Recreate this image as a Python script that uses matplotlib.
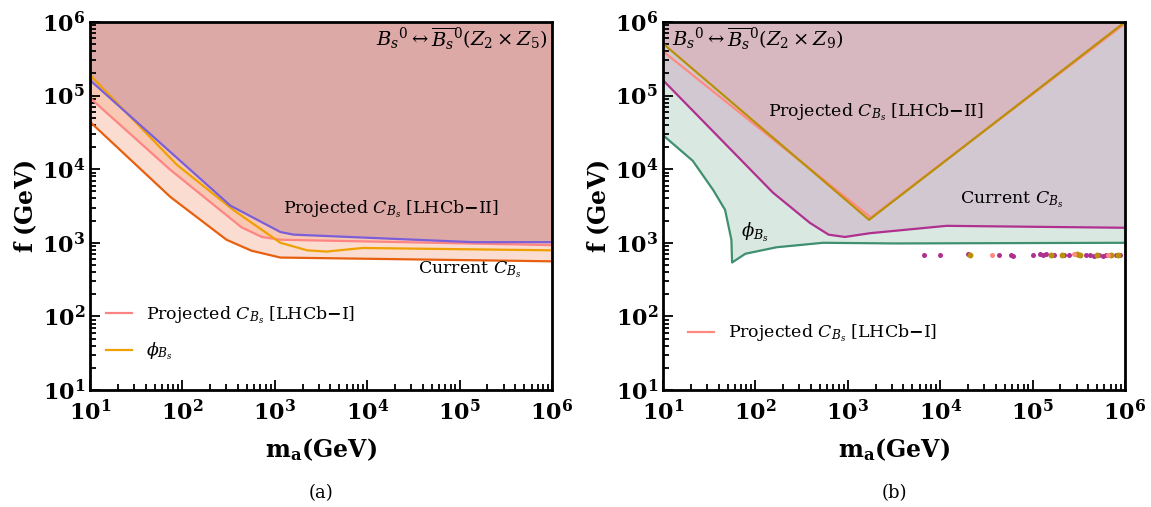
import math
import matplotlib.pyplot as plt
from matplotlib.ticker import LogLocator, FuncFormatter, NullFormatter

plt.rcParams['font.family'] = ['DejaVu Serif']
plt.rcParams['mathtext.fontset'] = 'dejavuserif'

# ---- panel (a): Z2 x Z5 ----
a_lhcb2_x = [10, 330, 1150, 1600, 1.4e5, 1e6]
a_lhcb2_y = [1.62e5, 3.2e3, 1.4e3, 1.29e3, 1.02e3, 1.02e3]
a_phi_x = [10, 87, 355, 1150, 2240, 3630, 8900, 1e6]
a_phi_y = [1.9e5, 1.15e4, 2.8e3, 1.0e3, 7.9e2, 7.6e2, 8.5e2, 7.9e2]
a_lhcb1_x = [10, 74, 437, 724, 1150, 1e6]
a_lhcb1_y = [9.3e4, 9.8e3, 1.62e3, 1.2e3, 1.1e3, 9.3e2]
a_cur_x = [10, 74, 300, 560, 1150, 1e6]
a_cur_y = [4.4e4, 4.2e3, 1.1e3, 7.8e2, 6.3e2, 5.6e2]

# ---- panel (b): Z2 x Z9 ----
b_lhcb2_x = [10, 1700, 1e6]
b_lhcb2_y = [5.1e5, 2.05e3, 1e6]
b_lhcb1_x = [10, 1780, 1e6]
b_lhcb1_y = [4.0e5, 2.2e3, 9.5e5]
b_cur_x = [10, 155, 390, 620, 930, 1740, 1.17e4, 1e6]
b_cur_y = [1.62e5, 4.8e3, 1.86e3, 1.29e3, 1.2e3, 1.35e3, 1.7e3, 1.6e3]
b_phi_x = [10, 21, 35, 47, 55, 56, 78, 170, 540, 3200, 1e6]
b_phi_y = [2.9e4, 1.3e4, 5.2e3, 2.8e3, 1.1e3, 5.4e2, 7.1e2, 8.7e2, 1.0e3, 9.8e2, 1.0e3]

# scattered points near f ~ 700 GeV
dots_mag_x = [6.6e3, 1.0e4, 2.0e4, 4.3e4, 5.8e4, 6.2e4, 1.0e5, 1.2e5, 1.3e5, 1.4e5, 1.7e5,
              2.2e5, 2.5e5, 3.2e5, 3.8e5, 4.2e5, 4.6e5, 5.2e5, 5.8e5, 6.3e5, 7.1e5, 7.9e5, 8.9e5]
dots_mag_y = [690, 690, 700, 690, 690, 665, 690, 700, 690, 700, 690,
              690, 680, 690, 680, 690, 670, 680, 665, 690, 680, 690, 680]
dots_gold_x = [2.1e4, 1.6e5, 2.1e5, 3.0e5, 3.3e5, 5.0e5, 7.1e5, 8.5e5]
dots_gold_y = [680, 690, 680, 700, 690, 680, 690, 680]
dots_pink_x = [3.6e4, 2.8e5, 6.6e5]
dots_pink_y = [690, 710, 690]

fig = plt.figure(figsize=(11.51, 5.07), dpi=100)
ax1 = fig.add_axes([0.0782, 0.2308, 0.4014, 0.7258])
ax2 = fig.add_axes([0.5760, 0.2308, 0.4014, 0.7258])

TOP = 1e6

# panel (a) fills and lines
ax1.fill_between(a_cur_x, a_cur_y, TOP, color='#fadcd0', lw=0)
ax1.fill_between(a_lhcb1_x, a_lhcb1_y, TOP, color='#f8c8b2', lw=0)
ax1.fill_between(a_lhcb2_x, a_lhcb2_y, TOP, color='#dca9a7', lw=0)
ax1.plot(a_cur_x, a_cur_y, color='#e8600f', lw=1.6)
ax1.plot(a_lhcb1_x, a_lhcb1_y, color='#ff8585', lw=1.6, label=r'Projected $C_{B_s}$ [LHCb$\mathbf{-}$I]')
ax1.plot(a_phi_x, a_phi_y, color='#f0a000', lw=1.6, label=r'$\phi_{B_s}$')
ax1.plot(a_lhcb2_x, a_lhcb2_y, color='#7b5fd8', lw=1.6)

ax1.text(0.99, 0.955, r'$B_s{}^0 \leftrightarrow \overline{B_s}{}^0 (Z_2 \times Z_5)$',
         transform=ax1.transAxes, ha='right', va='center', fontsize=14)
ax1.text(1.8e4, 2.9e3, r'Projected $C_{B_s}$ [LHCb$\mathbf{-}$II]', ha='center', va='center', fontsize=12.5)
ax1.text(1.3e5, 4.3e2, r'Current $C_{B_s}$', ha='center', va='center', fontsize=12.5)
ax1.legend(loc='upper left', bbox_to_anchor=(0.0, 0.275), frameon=False, fontsize=12.5,
           handlelength=1.5, labelspacing=0.85)

# panel (b) fills and lines
ax2.fill_between(b_phi_x, b_phi_y, TOP, color='#d9e9e1', lw=0)
ax2.fill_between(b_cur_x, b_cur_y, TOP, color='#d2c8d1', lw=0)
ax2.fill_between(b_lhcb2_x, b_lhcb2_y, TOP, color='#d8b8c0', lw=0)
ax2.plot(b_phi_x, b_phi_y, color='#3f8f70', lw=1.6)
ax2.plot(b_cur_x, b_cur_y, color='#b0308f', lw=1.6)
ax2.plot(b_lhcb1_x, b_lhcb1_y, color='#ff8a80', lw=1.6, label=r'Projected $C_{B_s}$ [LHCb$\mathbf{-}$I]')
ax2.plot(b_lhcb2_x, b_lhcb2_y, color='#b8900a', lw=1.6)
ax2.scatter(dots_mag_x, dots_mag_y, s=13, color='#b0308f', zorder=3, lw=0)
ax2.scatter(dots_gold_x, dots_gold_y, s=18, color='#b8900a', zorder=3, lw=0)
ax2.scatter(dots_pink_x, dots_pink_y, s=13, color='#ff8a80', zorder=3, lw=0)

ax2.text(0.02, 0.955, r'$B_s{}^0 \leftrightarrow \overline{B_s}{}^0 (Z_2 \times Z_9)$',
         transform=ax2.transAxes, ha='left', va='center', fontsize=14)
ax2.text(2.0e3, 6.0e4, r'Projected $C_{B_s}$ [LHCb$\mathbf{-}$II]', ha='center', va='center', fontsize=12.5)
ax2.text(5.9e4, 3.8e3, r'Current $C_{B_s}$', ha='center', va='center', fontsize=12.5)
ax2.text(100, 1.4e3, r'$\phi_{B_s}$', ha='center', va='center', fontsize=13)
ax2.legend(loc='upper left', bbox_to_anchor=(0.02, 0.225), frameon=False, fontsize=12.5,
           handlelength=1.5)

fmt = FuncFormatter(lambda v, p: r'$\mathbf{10^{%d}}$' % round(math.log10(v)))
for ax in (ax1, ax2):
    ax.set_xscale('log')
    ax.set_yscale('log')
    ax.set_xlim(10, 1e6)
    ax.set_ylim(10, 1e6)
    ax.xaxis.set_major_locator(LogLocator(base=10, numticks=10))
    ax.yaxis.set_major_locator(LogLocator(base=10, numticks=10))
    ax.xaxis.set_minor_locator(LogLocator(base=10, subs=range(2, 10), numticks=20))
    ax.yaxis.set_minor_locator(LogLocator(base=10, subs=range(2, 10), numticks=20))
    ax.xaxis.set_major_formatter(fmt)
    ax.yaxis.set_major_formatter(fmt)
    ax.xaxis.set_minor_formatter(NullFormatter())
    ax.yaxis.set_minor_formatter(NullFormatter())
    ax.tick_params(which='both', direction='in', top=False, right=False, labelsize=16, width=1.3)
    ax.tick_params(axis='x', which='major', pad=7)
    ax.tick_params(which='major', length=7)
    ax.tick_params(which='minor', length=4)
    for s in ax.spines.values():
        s.set_linewidth(2)
    ax.set_xlabel(r'$\mathbf{m_a(GeV)}$', fontsize=17, labelpad=8)
    ax.set_ylabel(r'$\mathbf{f\ (GeV)}$', fontsize=17, labelpad=2)

fig.text(0.2789, 0.018, '(a)', ha='center', fontsize=13)
fig.text(0.7767, 0.018, '(b)', ha='center', fontsize=13)

fig.savefig('out.png', dpi=100)
